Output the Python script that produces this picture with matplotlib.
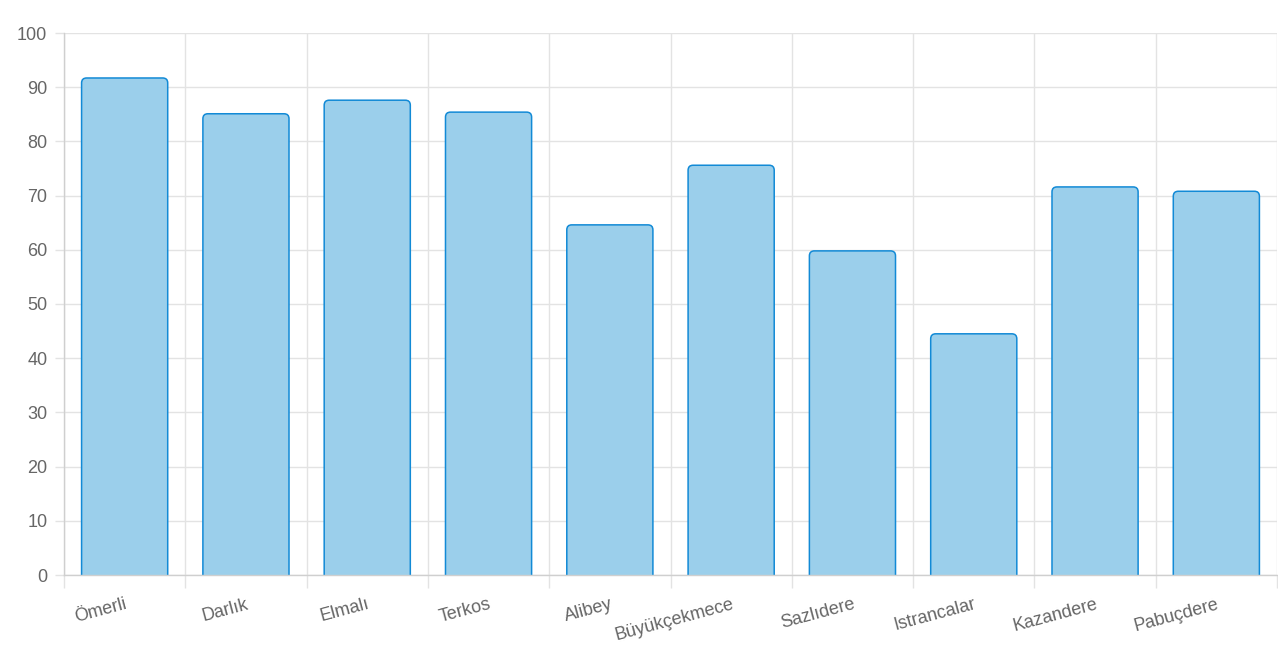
import matplotlib
matplotlib.use("Agg")
import matplotlib.pyplot as plt
from matplotlib.patches import FancyBboxPatch
import matplotlib.transforms as mtransforms
import numpy as np

plt.rcParams['font.family'] = ['Liberation Sans', 'DejaVu Sans']

dams = ["Ömerli", "Darlık", "Elmalı", "Terkos", "Alibey", "Büyükçekmece",
        "Sazlıdere", "Istrancalar", "Kazandere", "Pabuçdere"]
fill_pct = [91.7, 85.1, 87.6, 85.4, 64.6, 75.6, 59.8, 44.5, 71.6, 70.8]
y_ticks = [0, 10, 20, 30, 40, 50, 60, 70, 80, 90, 100]

W, H = 1278, 645
fig = plt.figure(figsize=(W / 100, H / 100), dpi=100)
x0, x1, y0, y1 = 64, 1277, 575, 33
ax = fig.add_axes([x0 / W, (H - y0) / H, (x1 - x0) / W, (y0 - y1) / H])

n = len(dams)
ax.set_xlim(-0.5, n - 0.5)
ax.set_ylim(0, 100)

# pixel -> data aspect so the rounded corners come out circular
px_per_x = (x1 - x0) / n
px_per_y = (y0 - y1) / 100
aspect = px_per_x / px_per_y

bar_w = 0.71
r = 5 / px_per_x
for i, v in enumerate(fill_pct):
    p = FancyBboxPatch((i - bar_w / 2, -3), bar_w, v + 3,
                       boxstyle=f"round,pad=0,rounding_size={r}",
                       mutation_aspect=aspect,
                       facecolor="#9bcfeb", edgecolor="#128ad6",
                       linewidth=1.1, zorder=3, clip_on=True)
    ax.add_patch(p)

grid_c = "#e3e3e3"
ax.set_yticks(y_ticks)
ax.set_xticks(np.arange(n + 1) - 0.5)
ax.set_xticklabels([])
ax.set_xticks(np.arange(n), minor=True)
ax.set_xticklabels(dams, minor=True, rotation=15, ha="right",
                   rotation_mode="anchor", fontsize=13, color="#666666")
shift = mtransforms.ScaledTranslation(3 / 100, 0, fig.dpi_scale_trans)
for lab in ax.get_xticklabels(minor=True):
    lab.set_transform(lab.get_transform() + shift)
ax.tick_params(axis="x", which="minor", length=0, pad=15)
ax.tick_params(axis="x", which="major", length=9, color=grid_c, width=1)
ax.tick_params(axis="y", length=6.5, color=grid_c, width=1, labelsize=13,
               labelcolor="#666666", pad=5.5)
ax.grid(True, which="major", color=grid_c, linewidth=1, zorder=0)
ax.set_axisbelow(True)

for s in ["top", "right"]:
    ax.spines[s].set_visible(False)
for s in ["left", "bottom"]:
    ax.spines[s].set_color("#cfcfcf")
    ax.spines[s].set_linewidth(1)
    ax.spines[s].set_zorder(4)

fig.savefig("out.png", dpi=100)
